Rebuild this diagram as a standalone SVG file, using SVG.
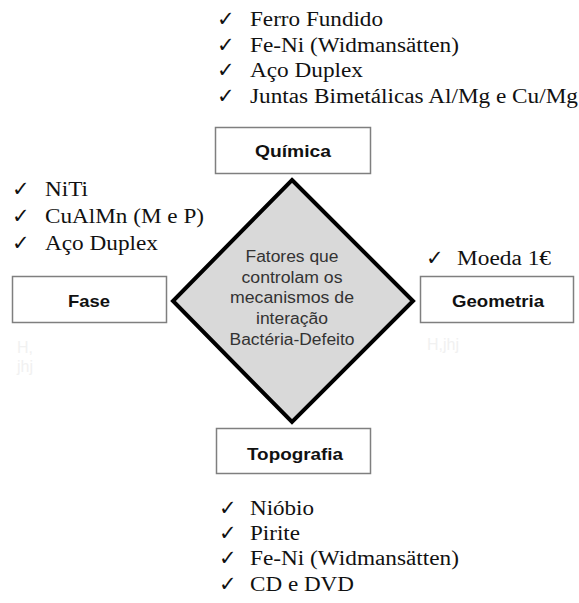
<svg xmlns="http://www.w3.org/2000/svg" width="579" height="603" viewBox="0 0 579 603">
<style>
.box{fill:#fff;stroke:#7f7f7f;stroke-width:1.5}
.lbl{font-family:"Liberation Sans",Arial,sans-serif;font-weight:bold;font-size:17px;fill:#111;text-anchor:middle}
.dia{fill:#d9d9d9;stroke:#000;stroke-width:4;stroke-linejoin:miter}
.dt{font-family:"Liberation Sans",Arial,sans-serif;font-size:16px;fill:#333;text-anchor:middle}
.li{font-family:"Liberation Serif","Times New Roman",serif;font-size:20px;fill:#111}
.ck{font-family:"DejaVu Sans",sans-serif;font-size:21px;fill:#111}
.faint{font-family:"Liberation Sans",Arial,sans-serif;font-size:16px;fill:#f1f1f1}
</style>
<rect width="579" height="603" fill="#fff"/>
<g id="connectors"></g>
<g id="centro">
<polygon class="dia" points="292,180 413,301 292,422 173,301"/>
<text class="dt" x="292" y="262" textLength="93" lengthAdjust="spacingAndGlyphs">Fatores que</text>
<text class="dt" x="292" y="283" textLength="101" lengthAdjust="spacingAndGlyphs">controlam os</text>
<text class="dt" x="292" y="303" textLength="124" lengthAdjust="spacingAndGlyphs">mecanismos de</text>
<text class="dt" x="292" y="324" textLength="72" lengthAdjust="spacingAndGlyphs">interação</text>
<text class="dt" x="292" y="345" textLength="125" lengthAdjust="spacingAndGlyphs">Bactéria-Defeito</text>
</g>
<g id="quimica">
<rect class="box" x="215.5" y="127.5" width="155" height="46"/>
<text class="lbl" x="293" y="157" textLength="76" lengthAdjust="spacingAndGlyphs">Química</text>
</g>
<g id="fase">
<rect class="box" x="12.5" y="276.5" width="154" height="46"/>
<text class="lbl" x="89" y="307" textLength="42" lengthAdjust="spacingAndGlyphs">Fase</text>
</g>
<g id="geometria">
<rect class="box" x="420.5" y="276.5" width="153" height="46"/>
<text class="lbl" x="498" y="307" textLength="92" lengthAdjust="spacingAndGlyphs">Geometria</text>
</g>
<g id="topografia">
<rect class="box" x="216.5" y="428.5" width="154" height="45"/>
<text class="lbl" x="295" y="460" textLength="96" lengthAdjust="spacingAndGlyphs">Topografia</text>
</g>
<g id="lista-quimica">
<text class="ck" x="217" y="26">✓</text><text class="li" x="250" y="26" textLength="133" lengthAdjust="spacingAndGlyphs">Ferro Fundido</text>
<text class="ck" x="217" y="52">✓</text><text class="li" x="250" y="52" textLength="209" lengthAdjust="spacingAndGlyphs">Fe-Ni (Widmansätten)</text>
<text class="ck" x="217" y="77">✓</text><text class="li" x="250" y="77" textLength="113" lengthAdjust="spacingAndGlyphs">Aço Duplex</text>
<text class="ck" x="217" y="103">✓</text><text class="li" x="250" y="103" textLength="328" lengthAdjust="spacingAndGlyphs">Juntas Bimetálicas Al/Mg e Cu/Mg</text>
</g>
<g id="lista-fase">
<text class="ck" x="12" y="196">✓</text><text class="li" x="45" y="196" textLength="43" lengthAdjust="spacingAndGlyphs">NiTi</text>
<text class="ck" x="12" y="223">✓</text><text class="li" x="45" y="223" textLength="159" lengthAdjust="spacingAndGlyphs">CuAlMn (M e P)</text>
<text class="ck" x="12" y="250">✓</text><text class="li" x="45" y="250" textLength="113" lengthAdjust="spacingAndGlyphs">Aço Duplex</text>
<text class="faint" x="17" y="353">H,</text>
<text class="faint" x="17" y="372">jhj</text>
</g>
<g id="lista-geometria">
<text class="ck" x="426" y="265">✓</text><text class="li" x="457" y="265" textLength="94" lengthAdjust="spacingAndGlyphs">Moeda 1€</text>
<text class="faint" x="427" y="350">H,jhj</text>
</g>
<g id="lista-topografia">
<text class="ck" x="219" y="515">✓</text><text class="li" x="250" y="515" textLength="64" lengthAdjust="spacingAndGlyphs">Nióbio</text>
<text class="ck" x="219" y="540">✓</text><text class="li" x="250" y="540" textLength="50" lengthAdjust="spacingAndGlyphs">Pirite</text>
<text class="ck" x="219" y="565">✓</text><text class="li" x="250" y="565" textLength="209" lengthAdjust="spacingAndGlyphs">Fe-Ni (Widmansätten)</text>
<text class="ck" x="219" y="591">✓</text><text class="li" x="250" y="591" textLength="104" lengthAdjust="spacingAndGlyphs">CD e DVD</text>
</g>
</svg>
